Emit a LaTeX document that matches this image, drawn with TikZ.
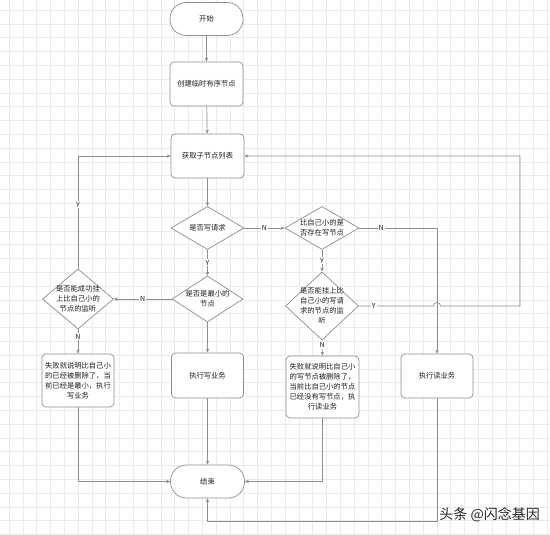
\documentclass[tikz,border=0pt]{standalone}
\usepackage{fontspec}
\newfontfamily\cjk{Noto Sans CJK SC}
\usetikzlibrary{shapes.geometric,arrows.meta}
\definecolor{gridc}{HTML}{EBEBEB}
\definecolor{linec}{HTML}{8E8E8E}
\definecolor{txtc}{HTML}{1E1E1E}
\tikzset{
  every node/.style={font=\cjk\fontsize{7.3}{10}\selectfont, text=txtc},
  term/.style={draw=linec, line width=0.7pt, fill=white, rectangle, rounded corners=16pt, minimum width=73pt, minimum height=33pt, inner sep=0pt},
  proc/.style={draw=linec, line width=0.7pt, fill=white, rectangle, rounded corners=4pt, inner sep=0pt, align=center},
  dec/.style={draw=linec, line width=0.7pt, fill=white, diamond, inner sep=0pt, minimum width=#1},
  dtext/.style={align=center, inner sep=0pt},
  conn/.style={draw=linec, line width=0.7pt, -{Stealth[length=4pt,width=3.5pt]}},
  plain/.style={draw=linec, line width=0.7pt},
  lbl/.style={fill=white, inner sep=1pt, font=\cjk\fontsize{7}{8}\selectfont}
}
\begin{document}
\begin{tikzpicture}[x=1pt,y=-1pt]
\useasboundingbox (0,0) rectangle (550,535);
\fill[white] (0,0) rectangle (550,535);
% grid
\foreach \i in {0,...,39} {
  \draw[gridc, line width=0.5pt] (9+\i*13.8,0) -- (9+\i*13.8,535);
}
\foreach \i in {0,...,38} {
  \draw[gridc, line width=0.5pt] (0,10+\i*13.8) -- (550,10+\i*13.8);
}
% nodes
\node[term] (start) at (206.5,19) {开始};
\node[proc, minimum width=73pt, minimum height=44pt] (create) at (206.5,84) {创建临时有序节点};
\node[proc, minimum width=73pt, minimum height=44pt] (fetch) at (207.5,156) {获取子节点列表};

\node[dec=73pt, minimum height=43pt] (dW) at (207.5,228) {};
\node[dtext] at (dW) {是否写请求};

\node[dec=74pt, minimum height=43pt] (dS) at (322,228) {};
\node[dtext] at (dS) {比自己小的是\\否存在写节点};

\node[dec=73pt, minimum height=68pt] (dL) at (322,306) {};
\node[dtext] at (dL) {是否能挂上比\\自己小的写请\\求的节点的监\\听};

\node[dec=71pt, minimum height=46pt] (dM) at (207.5,299) {};
\node[dtext] at (dM) {是否是最小的\\节点};

\node[dec=71pt, minimum height=60pt] (dC) at (78,299) {};
\node[dtext] at (dC) {是否能成功挂\\上比自己小的\\节点的监听};

\node[proc, minimum width=72pt, minimum height=53pt] (failW) at (78,380.5) {失败就说明比自己小\\的已经被删除了，当\\前已经是最小，执行\\写业务};
\node[proc, minimum width=72pt, minimum height=45pt] (execW) at (207.5,375.5) {执行写业务};
\node[proc, minimum width=73pt, minimum height=62pt] (failR) at (322.5,387) {失败就说明比自己小\\的写节点被删除了，\\当前比自己小的节点\\已经没有写节点，执\\行读业务};
\node[proc, minimum width=72pt, minimum height=44pt] (execR) at (437,376) {执行读业务};
\node[term, minimum width=74pt] (end) at (207.5,481.5) {结束};

% connectors
\draw[conn] (start) -- (create);
\draw[conn] (create) -- (fetch);
\draw[conn] (fetch) -- (dW);
\draw[conn] (dW.east) -- node[lbl] {N} (dS.west);
\draw[conn] (dW.south) -- node[lbl, pos=0.5] {Y} (dM.north);
\coordinate (rN) at (437,228);
\draw[conn] (dS.east) -- node[lbl, pos=0.28] {N} (rN) -- (execR.north);
\draw[conn] (dS.south) -- node[lbl] {Y} (dL.north);
\coordinate (loopA) at (520,306);
\coordinate (loopB) at (520,156);
\draw[conn] (dL.east) -- node[lbl, pos=0.2] {Y} (433.5,306) .. controls (433.5,301.3) and (440.5,301.3) .. (440.5,306) -- (loopA) -- (loopB) -- (fetch.east);
\draw[conn] (dL.south) -- node[lbl, pos=0.3] {N} (failR.north);
\draw[conn] (dM.west) -- node[lbl] {N} (dC.east);
\draw[conn] (dM.south) -- (execW.north);
\coordinate (lY) at (78,156);
\draw[conn] (dC.north) -- node[lbl, pos=0.57] {Y} (lY) -- (fetch.west);
\draw[conn] (dC.south) -- node[lbl, pos=0.3] {N} (failW.north);
\draw[conn] (failW.south) |- (end.west);
\draw[conn] (execW.south) -- (end.north);
\draw[conn] (failR.south) |- (end.east);
\coordinate (bot) at (437,521);
\draw[conn] (execR.south) -- (bot) -| (end.south);

% watermark
\node[font=\cjk\fontsize{14}{16}\selectfont, text=black!85, anchor=east, inner sep=0pt] (wm) at (540,515) {头条 @闪念基因};
\end{tikzpicture}
\end{document}
